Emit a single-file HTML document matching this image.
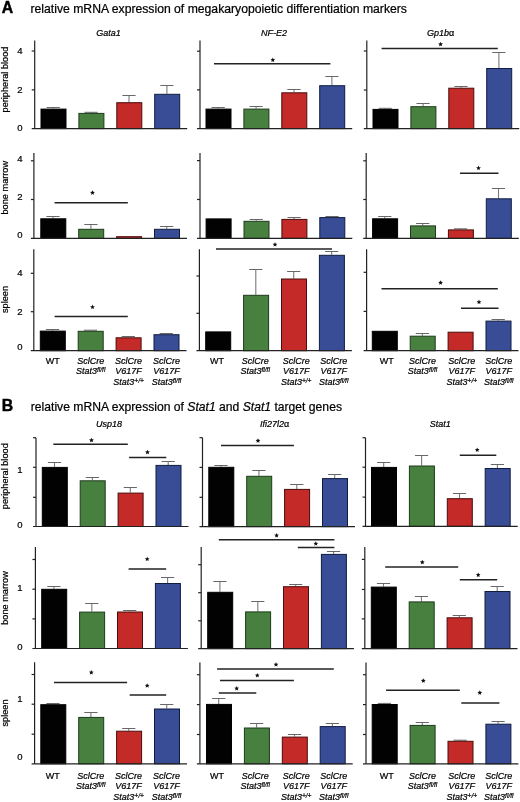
<!DOCTYPE html>
<html><head><meta charset="utf-8"><style>
html,body{margin:0;padding:0;background:#fff;width:520px;height:802px;overflow:hidden}
svg{display:block;will-change:transform}
text{font-family:"Liberation Sans", sans-serif;fill:#000;stroke:#000;stroke-width:0.22px}
</style></head><body>
<svg width="520" height="802" viewBox="0 0 520 802">
<rect width="520" height="802" fill="#fff"/>
<line x1="53.20" y1="108.60" x2="53.20" y2="107.50" stroke="#7a7a7a" stroke-width="1.1"/>
<line x1="46.60" y1="107.50" x2="59.80" y2="107.50" stroke="#686868" stroke-width="1"/>
<rect x="41.00" y="109.10" width="25.00" height="19.50" fill="#020202" stroke="#000000" stroke-width="1"/>
<line x1="91.10" y1="112.90" x2="91.10" y2="112.30" stroke="#7a7a7a" stroke-width="1.1"/>
<line x1="84.50" y1="112.30" x2="97.70" y2="112.30" stroke="#686868" stroke-width="1"/>
<rect x="78.90" y="113.40" width="25.00" height="15.20" fill="#48813f" stroke="#1d3a1a" stroke-width="1"/>
<line x1="129.00" y1="102.20" x2="129.00" y2="95.50" stroke="#7a7a7a" stroke-width="1.1"/>
<line x1="122.40" y1="95.50" x2="135.60" y2="95.50" stroke="#686868" stroke-width="1"/>
<rect x="116.80" y="102.70" width="25.00" height="25.90" fill="#c42a27" stroke="#4a0c0c" stroke-width="1"/>
<line x1="166.90" y1="93.80" x2="166.90" y2="85.50" stroke="#7a7a7a" stroke-width="1.1"/>
<line x1="160.30" y1="85.50" x2="173.50" y2="85.50" stroke="#686868" stroke-width="1"/>
<rect x="154.70" y="94.30" width="25.00" height="34.30" fill="#394d97" stroke="#0f1d40" stroke-width="1"/>
<line x1="34.70" y1="40.60" x2="34.70" y2="128.60" stroke="#222" stroke-width="1.2"/>
<line x1="31.70" y1="128.60" x2="187.20" y2="128.60" stroke="#222" stroke-width="1.2"/>
<line x1="31.70" y1="51.00" x2="34.70" y2="51.00" stroke="#222" stroke-width="1.2"/>
<line x1="31.70" y1="89.90" x2="34.70" y2="89.90" stroke="#222" stroke-width="1.2"/>
<line x1="218.20" y1="108.60" x2="218.20" y2="107.50" stroke="#7a7a7a" stroke-width="1.1"/>
<line x1="211.60" y1="107.50" x2="224.80" y2="107.50" stroke="#686868" stroke-width="1"/>
<rect x="206.00" y="109.10" width="25.00" height="19.50" fill="#020202" stroke="#000000" stroke-width="1"/>
<line x1="256.10" y1="108.60" x2="256.10" y2="106.50" stroke="#7a7a7a" stroke-width="1.1"/>
<line x1="249.50" y1="106.50" x2="262.70" y2="106.50" stroke="#686868" stroke-width="1"/>
<rect x="243.90" y="109.10" width="25.00" height="19.50" fill="#48813f" stroke="#1d3a1a" stroke-width="1"/>
<line x1="294.00" y1="92.30" x2="294.00" y2="89.50" stroke="#7a7a7a" stroke-width="1.1"/>
<line x1="287.40" y1="89.50" x2="300.60" y2="89.50" stroke="#686868" stroke-width="1"/>
<rect x="281.80" y="92.80" width="25.00" height="35.80" fill="#c42a27" stroke="#4a0c0c" stroke-width="1"/>
<line x1="331.90" y1="85.20" x2="331.90" y2="76.50" stroke="#7a7a7a" stroke-width="1.1"/>
<line x1="325.30" y1="76.50" x2="338.50" y2="76.50" stroke="#686868" stroke-width="1"/>
<rect x="319.70" y="85.70" width="25.00" height="42.90" fill="#394d97" stroke="#0f1d40" stroke-width="1"/>
<line x1="200.00" y1="40.60" x2="200.00" y2="128.60" stroke="#222" stroke-width="1.2"/>
<line x1="197.00" y1="128.60" x2="352.20" y2="128.60" stroke="#222" stroke-width="1.2"/>
<line x1="197.00" y1="51.20" x2="200.00" y2="51.20" stroke="#222" stroke-width="1.2"/>
<line x1="197.00" y1="89.90" x2="200.00" y2="89.90" stroke="#222" stroke-width="1.2"/>
<line x1="214.00" y1="63.80" x2="330.40" y2="63.80" stroke="#222" stroke-width="1.5"/>
<polygon points="272.80,57.50 273.48,59.07 275.18,59.23 273.89,60.36 274.27,62.02 272.80,61.15 271.33,62.02 271.71,60.36 270.42,59.23 272.12,59.07" fill="#111"/>
<line x1="385.20" y1="108.90" x2="385.20" y2="108.30" stroke="#7a7a7a" stroke-width="1.1"/>
<line x1="378.60" y1="108.30" x2="391.80" y2="108.30" stroke="#686868" stroke-width="1"/>
<rect x="373.00" y="109.40" width="25.00" height="19.20" fill="#020202" stroke="#000000" stroke-width="1"/>
<line x1="423.10" y1="106.20" x2="423.10" y2="103.50" stroke="#7a7a7a" stroke-width="1.1"/>
<line x1="416.50" y1="103.50" x2="429.70" y2="103.50" stroke="#686868" stroke-width="1"/>
<rect x="410.90" y="106.70" width="25.00" height="21.90" fill="#48813f" stroke="#1d3a1a" stroke-width="1"/>
<line x1="461.00" y1="87.70" x2="461.00" y2="86.50" stroke="#7a7a7a" stroke-width="1.1"/>
<line x1="454.40" y1="86.50" x2="467.60" y2="86.50" stroke="#686868" stroke-width="1"/>
<rect x="448.80" y="88.20" width="25.00" height="40.40" fill="#c42a27" stroke="#4a0c0c" stroke-width="1"/>
<line x1="498.90" y1="68.00" x2="498.90" y2="52.50" stroke="#7a7a7a" stroke-width="1.1"/>
<line x1="492.30" y1="52.50" x2="505.50" y2="52.50" stroke="#686868" stroke-width="1"/>
<rect x="486.70" y="68.50" width="25.00" height="60.10" fill="#394d97" stroke="#0f1d40" stroke-width="1"/>
<line x1="366.80" y1="40.60" x2="366.80" y2="128.60" stroke="#222" stroke-width="1.2"/>
<line x1="363.80" y1="128.60" x2="519.20" y2="128.60" stroke="#222" stroke-width="1.2"/>
<line x1="363.80" y1="51.00" x2="366.80" y2="51.00" stroke="#222" stroke-width="1.2"/>
<line x1="363.80" y1="90.00" x2="366.80" y2="90.00" stroke="#222" stroke-width="1.2"/>
<line x1="381.60" y1="48.50" x2="497.80" y2="48.50" stroke="#222" stroke-width="1.5"/>
<polygon points="440.60,41.80 441.28,43.37 442.98,43.53 441.69,44.66 442.07,46.32 440.60,45.45 439.13,46.32 439.51,44.66 438.22,43.53 439.92,43.37" fill="#111"/>
<line x1="53.00" y1="218.30" x2="53.00" y2="216.50" stroke="#7a7a7a" stroke-width="1.1"/>
<line x1="46.40" y1="216.50" x2="59.60" y2="216.50" stroke="#686868" stroke-width="1"/>
<rect x="40.80" y="218.80" width="25.00" height="19.60" fill="#020202" stroke="#000000" stroke-width="1"/>
<line x1="90.90" y1="228.80" x2="90.90" y2="224.50" stroke="#7a7a7a" stroke-width="1.1"/>
<line x1="84.30" y1="224.50" x2="97.50" y2="224.50" stroke="#686868" stroke-width="1"/>
<rect x="78.70" y="229.30" width="25.00" height="9.10" fill="#48813f" stroke="#1d3a1a" stroke-width="1"/>
<rect x="116.60" y="236.70" width="25.00" height="1.70" fill="#c42a27" stroke="#4a0c0c" stroke-width="1"/>
<line x1="166.70" y1="228.80" x2="166.70" y2="226.50" stroke="#7a7a7a" stroke-width="1.1"/>
<line x1="160.10" y1="226.50" x2="173.30" y2="226.50" stroke="#686868" stroke-width="1"/>
<rect x="154.50" y="229.30" width="25.00" height="9.10" fill="#394d97" stroke="#0f1d40" stroke-width="1"/>
<line x1="33.90" y1="153.10" x2="33.90" y2="238.40" stroke="#222" stroke-width="1.2"/>
<line x1="30.90" y1="238.40" x2="187.00" y2="238.40" stroke="#222" stroke-width="1.2"/>
<line x1="30.90" y1="160.80" x2="33.90" y2="160.80" stroke="#222" stroke-width="1.2"/>
<line x1="30.90" y1="199.50" x2="33.90" y2="199.50" stroke="#222" stroke-width="1.2"/>
<line x1="54.60" y1="202.80" x2="127.80" y2="202.80" stroke="#222" stroke-width="1.5"/>
<polygon points="92.50,190.30 93.18,191.87 94.88,192.03 93.59,193.16 93.97,194.82 92.50,193.95 91.03,194.82 91.41,193.16 90.12,192.03 91.82,191.87" fill="#111"/>
<rect x="206.10" y="218.90" width="25.00" height="19.50" fill="#020202" stroke="#000000" stroke-width="1"/>
<line x1="256.20" y1="220.80" x2="256.20" y2="219.50" stroke="#7a7a7a" stroke-width="1.1"/>
<line x1="249.60" y1="219.50" x2="262.80" y2="219.50" stroke="#686868" stroke-width="1"/>
<rect x="244.00" y="221.30" width="25.00" height="17.10" fill="#48813f" stroke="#1d3a1a" stroke-width="1"/>
<line x1="294.10" y1="218.90" x2="294.10" y2="217.50" stroke="#7a7a7a" stroke-width="1.1"/>
<line x1="287.50" y1="217.50" x2="300.70" y2="217.50" stroke="#686868" stroke-width="1"/>
<rect x="281.90" y="219.40" width="25.00" height="19.00" fill="#c42a27" stroke="#4a0c0c" stroke-width="1"/>
<line x1="332.00" y1="217.10" x2="332.00" y2="216.50" stroke="#7a7a7a" stroke-width="1.1"/>
<line x1="325.40" y1="216.50" x2="338.60" y2="216.50" stroke="#686868" stroke-width="1"/>
<rect x="319.80" y="217.60" width="25.00" height="20.80" fill="#394d97" stroke="#0f1d40" stroke-width="1"/>
<line x1="200.00" y1="153.10" x2="200.00" y2="238.40" stroke="#222" stroke-width="1.2"/>
<line x1="197.00" y1="238.40" x2="352.30" y2="238.40" stroke="#222" stroke-width="1.2"/>
<line x1="197.00" y1="160.60" x2="200.00" y2="160.60" stroke="#222" stroke-width="1.2"/>
<line x1="197.00" y1="199.50" x2="200.00" y2="199.50" stroke="#222" stroke-width="1.2"/>
<line x1="384.80" y1="218.30" x2="384.80" y2="216.50" stroke="#7a7a7a" stroke-width="1.1"/>
<line x1="378.20" y1="216.50" x2="391.40" y2="216.50" stroke="#686868" stroke-width="1"/>
<rect x="372.60" y="218.80" width="25.00" height="19.60" fill="#020202" stroke="#000000" stroke-width="1"/>
<line x1="422.70" y1="225.40" x2="422.70" y2="223.50" stroke="#7a7a7a" stroke-width="1.1"/>
<line x1="416.10" y1="223.50" x2="429.30" y2="223.50" stroke="#686868" stroke-width="1"/>
<rect x="410.50" y="225.90" width="25.00" height="12.50" fill="#48813f" stroke="#1d3a1a" stroke-width="1"/>
<line x1="460.60" y1="229.40" x2="460.60" y2="228.80" stroke="#7a7a7a" stroke-width="1.1"/>
<line x1="454.00" y1="228.80" x2="467.20" y2="228.80" stroke="#686868" stroke-width="1"/>
<rect x="448.40" y="229.90" width="25.00" height="8.50" fill="#c42a27" stroke="#4a0c0c" stroke-width="1"/>
<line x1="498.50" y1="198.30" x2="498.50" y2="188.50" stroke="#7a7a7a" stroke-width="1.1"/>
<line x1="491.90" y1="188.50" x2="505.10" y2="188.50" stroke="#686868" stroke-width="1"/>
<rect x="486.30" y="198.80" width="25.00" height="39.60" fill="#394d97" stroke="#0f1d40" stroke-width="1"/>
<line x1="366.20" y1="153.10" x2="366.20" y2="238.40" stroke="#222" stroke-width="1.2"/>
<line x1="363.20" y1="238.40" x2="518.80" y2="238.40" stroke="#222" stroke-width="1.2"/>
<line x1="363.20" y1="160.80" x2="366.20" y2="160.80" stroke="#222" stroke-width="1.2"/>
<line x1="363.20" y1="199.50" x2="366.20" y2="199.50" stroke="#222" stroke-width="1.2"/>
<line x1="460.00" y1="173.30" x2="498.50" y2="173.30" stroke="#222" stroke-width="1.5"/>
<polygon points="478.50,165.60 479.18,167.17 480.88,167.33 479.59,168.46 479.97,170.12 478.50,169.25 477.03,170.12 477.41,168.46 476.12,167.33 477.82,167.17" fill="#111"/>
<line x1="52.50" y1="330.60" x2="52.50" y2="329.50" stroke="#7a7a7a" stroke-width="1.1"/>
<line x1="45.90" y1="329.50" x2="59.10" y2="329.50" stroke="#686868" stroke-width="1"/>
<rect x="40.30" y="331.10" width="25.00" height="19.60" fill="#020202" stroke="#000000" stroke-width="1"/>
<line x1="90.40" y1="330.80" x2="90.40" y2="330.20" stroke="#7a7a7a" stroke-width="1.1"/>
<line x1="83.80" y1="330.20" x2="97.00" y2="330.20" stroke="#686868" stroke-width="1"/>
<rect x="78.20" y="331.30" width="25.00" height="19.40" fill="#48813f" stroke="#1d3a1a" stroke-width="1"/>
<line x1="128.30" y1="337.30" x2="128.30" y2="336.50" stroke="#7a7a7a" stroke-width="1.1"/>
<line x1="121.70" y1="336.50" x2="134.90" y2="336.50" stroke="#686868" stroke-width="1"/>
<rect x="116.10" y="337.80" width="25.00" height="12.90" fill="#c42a27" stroke="#4a0c0c" stroke-width="1"/>
<line x1="166.20" y1="334.20" x2="166.20" y2="333.50" stroke="#7a7a7a" stroke-width="1.1"/>
<line x1="159.60" y1="333.50" x2="172.80" y2="333.50" stroke="#686868" stroke-width="1"/>
<rect x="154.00" y="334.70" width="25.00" height="16.00" fill="#394d97" stroke="#0f1d40" stroke-width="1"/>
<line x1="33.80" y1="249.30" x2="33.80" y2="350.70" stroke="#222" stroke-width="1.2"/>
<line x1="30.80" y1="350.70" x2="186.50" y2="350.70" stroke="#222" stroke-width="1.2"/>
<line x1="30.80" y1="273.30" x2="33.80" y2="273.30" stroke="#222" stroke-width="1.2"/>
<line x1="30.80" y1="311.70" x2="33.80" y2="311.70" stroke="#222" stroke-width="1.2"/>
<line x1="54.60" y1="316.40" x2="127.80" y2="316.40" stroke="#222" stroke-width="1.5"/>
<polygon points="92.50,304.60 93.18,306.17 94.88,306.33 93.59,307.46 93.97,309.12 92.50,308.25 91.03,309.12 91.41,307.46 90.12,306.33 91.82,306.17" fill="#111"/>
<rect x="205.70" y="331.90" width="25.00" height="18.80" fill="#020202" stroke="#000000" stroke-width="1"/>
<line x1="255.80" y1="294.80" x2="255.80" y2="269.50" stroke="#7a7a7a" stroke-width="1.1"/>
<line x1="249.20" y1="269.50" x2="262.40" y2="269.50" stroke="#686868" stroke-width="1"/>
<rect x="243.60" y="295.30" width="25.00" height="55.40" fill="#48813f" stroke="#1d3a1a" stroke-width="1"/>
<line x1="293.70" y1="278.50" x2="293.70" y2="271.50" stroke="#7a7a7a" stroke-width="1.1"/>
<line x1="287.10" y1="271.50" x2="300.30" y2="271.50" stroke="#686868" stroke-width="1"/>
<rect x="281.50" y="279.00" width="25.00" height="71.70" fill="#c42a27" stroke="#4a0c0c" stroke-width="1"/>
<line x1="331.60" y1="254.80" x2="331.60" y2="251.50" stroke="#7a7a7a" stroke-width="1.1"/>
<line x1="325.00" y1="251.50" x2="338.20" y2="251.50" stroke="#686868" stroke-width="1"/>
<rect x="319.40" y="255.30" width="25.00" height="95.40" fill="#394d97" stroke="#0f1d40" stroke-width="1"/>
<line x1="199.40" y1="249.30" x2="199.40" y2="350.70" stroke="#222" stroke-width="1.2"/>
<line x1="196.40" y1="350.70" x2="351.90" y2="350.70" stroke="#222" stroke-width="1.2"/>
<line x1="196.40" y1="276.00" x2="199.40" y2="276.00" stroke="#222" stroke-width="1.2"/>
<line x1="196.40" y1="313.30" x2="199.40" y2="313.30" stroke="#222" stroke-width="1.2"/>
<line x1="216.00" y1="249.00" x2="332.00" y2="249.00" stroke="#222" stroke-width="1.5"/>
<polygon points="275.00,242.10 275.68,243.67 277.38,243.83 276.09,244.96 276.47,246.62 275.00,245.75 273.53,246.62 273.91,244.96 272.62,243.83 274.32,243.67" fill="#111"/>
<rect x="372.30" y="331.30" width="25.00" height="19.40" fill="#020202" stroke="#000000" stroke-width="1"/>
<line x1="422.40" y1="335.70" x2="422.40" y2="333.50" stroke="#7a7a7a" stroke-width="1.1"/>
<line x1="415.80" y1="333.50" x2="429.00" y2="333.50" stroke="#686868" stroke-width="1"/>
<rect x="410.20" y="336.20" width="25.00" height="14.50" fill="#48813f" stroke="#1d3a1a" stroke-width="1"/>
<rect x="448.10" y="332.20" width="25.00" height="18.50" fill="#c42a27" stroke="#4a0c0c" stroke-width="1"/>
<line x1="498.20" y1="320.60" x2="498.20" y2="319.50" stroke="#7a7a7a" stroke-width="1.1"/>
<line x1="491.60" y1="319.50" x2="504.80" y2="319.50" stroke="#686868" stroke-width="1"/>
<rect x="486.00" y="321.10" width="25.00" height="29.60" fill="#394d97" stroke="#0f1d40" stroke-width="1"/>
<line x1="366.60" y1="249.30" x2="366.60" y2="350.70" stroke="#222" stroke-width="1.2"/>
<line x1="363.60" y1="350.70" x2="518.50" y2="350.70" stroke="#222" stroke-width="1.2"/>
<line x1="363.60" y1="272.30" x2="366.60" y2="272.30" stroke="#222" stroke-width="1.2"/>
<line x1="363.60" y1="311.40" x2="366.60" y2="311.40" stroke="#222" stroke-width="1.2"/>
<line x1="381.50" y1="288.80" x2="497.80" y2="288.80" stroke="#222" stroke-width="1.5"/>
<polygon points="440.60,280.30 441.28,281.87 442.98,282.03 441.69,283.16 442.07,284.82 440.60,283.95 439.13,284.82 439.51,283.16 438.22,282.03 439.92,281.87" fill="#111"/>
<line x1="461.00" y1="308.20" x2="498.50" y2="308.20" stroke="#222" stroke-width="1.5"/>
<polygon points="479.00,299.60 479.68,301.17 481.38,301.33 480.09,302.46 480.47,304.12 479.00,303.25 477.53,304.12 477.91,302.46 476.62,301.33 478.32,301.17" fill="#111"/>
<line x1="54.50" y1="466.90" x2="54.50" y2="462.50" stroke="#7a7a7a" stroke-width="1.1"/>
<line x1="47.90" y1="462.50" x2="61.10" y2="462.50" stroke="#686868" stroke-width="1"/>
<rect x="42.30" y="467.40" width="25.00" height="59.10" fill="#020202" stroke="#000000" stroke-width="1"/>
<line x1="92.40" y1="480.30" x2="92.40" y2="477.50" stroke="#7a7a7a" stroke-width="1.1"/>
<line x1="85.80" y1="477.50" x2="99.00" y2="477.50" stroke="#686868" stroke-width="1"/>
<rect x="80.20" y="480.80" width="25.00" height="45.70" fill="#48813f" stroke="#1d3a1a" stroke-width="1"/>
<line x1="130.30" y1="492.60" x2="130.30" y2="487.50" stroke="#7a7a7a" stroke-width="1.1"/>
<line x1="123.70" y1="487.50" x2="136.90" y2="487.50" stroke="#686868" stroke-width="1"/>
<rect x="118.10" y="493.10" width="25.00" height="33.40" fill="#c42a27" stroke="#4a0c0c" stroke-width="1"/>
<line x1="168.20" y1="464.90" x2="168.20" y2="461.50" stroke="#7a7a7a" stroke-width="1.1"/>
<line x1="161.60" y1="461.50" x2="174.80" y2="461.50" stroke="#686868" stroke-width="1"/>
<rect x="156.00" y="465.40" width="25.00" height="61.10" fill="#394d97" stroke="#0f1d40" stroke-width="1"/>
<line x1="36.00" y1="437.70" x2="36.00" y2="526.50" stroke="#222" stroke-width="1.2"/>
<line x1="33.00" y1="526.50" x2="188.50" y2="526.50" stroke="#222" stroke-width="1.2"/>
<line x1="33.00" y1="437.70" x2="36.00" y2="437.70" stroke="#222" stroke-width="1.2"/>
<line x1="33.00" y1="467.30" x2="36.00" y2="467.30" stroke="#222" stroke-width="1.2"/>
<line x1="33.00" y1="497.30" x2="36.00" y2="497.30" stroke="#222" stroke-width="1.2"/>
<line x1="53.30" y1="444.30" x2="127.80" y2="444.30" stroke="#222" stroke-width="1.5"/>
<polygon points="91.50,437.80 92.18,439.37 93.88,439.53 92.59,440.66 92.97,442.32 91.50,441.45 90.03,442.32 90.41,440.66 89.12,439.53 90.82,439.37" fill="#111"/>
<line x1="129.10" y1="457.40" x2="166.30" y2="457.40" stroke="#222" stroke-width="1.5"/>
<polygon points="147.50,449.80 148.18,451.37 149.88,451.53 148.59,452.66 148.97,454.32 147.50,453.45 146.03,454.32 146.41,452.66 145.12,451.53 146.82,451.37" fill="#111"/>
<line x1="221.00" y1="466.80" x2="221.00" y2="465.50" stroke="#7a7a7a" stroke-width="1.1"/>
<line x1="214.40" y1="465.50" x2="227.60" y2="465.50" stroke="#686868" stroke-width="1"/>
<rect x="208.80" y="467.30" width="25.00" height="59.30" fill="#020202" stroke="#000000" stroke-width="1"/>
<line x1="258.90" y1="475.80" x2="258.90" y2="470.50" stroke="#7a7a7a" stroke-width="1.1"/>
<line x1="252.30" y1="470.50" x2="265.50" y2="470.50" stroke="#686868" stroke-width="1"/>
<rect x="246.70" y="476.30" width="25.00" height="50.30" fill="#48813f" stroke="#1d3a1a" stroke-width="1"/>
<line x1="296.80" y1="488.90" x2="296.80" y2="484.50" stroke="#7a7a7a" stroke-width="1.1"/>
<line x1="290.20" y1="484.50" x2="303.40" y2="484.50" stroke="#686868" stroke-width="1"/>
<rect x="284.60" y="489.40" width="25.00" height="37.20" fill="#c42a27" stroke="#4a0c0c" stroke-width="1"/>
<line x1="334.70" y1="478.10" x2="334.70" y2="474.50" stroke="#7a7a7a" stroke-width="1.1"/>
<line x1="328.10" y1="474.50" x2="341.30" y2="474.50" stroke="#686868" stroke-width="1"/>
<rect x="322.50" y="478.60" width="25.00" height="48.00" fill="#394d97" stroke="#0f1d40" stroke-width="1"/>
<line x1="202.50" y1="437.70" x2="202.50" y2="526.60" stroke="#222" stroke-width="1.2"/>
<line x1="199.50" y1="526.60" x2="355.00" y2="526.60" stroke="#222" stroke-width="1.2"/>
<line x1="199.50" y1="437.70" x2="202.50" y2="437.70" stroke="#222" stroke-width="1.2"/>
<line x1="199.50" y1="467.40" x2="202.50" y2="467.40" stroke="#222" stroke-width="1.2"/>
<line x1="199.50" y1="497.30" x2="202.50" y2="497.30" stroke="#222" stroke-width="1.2"/>
<line x1="221.00" y1="445.60" x2="293.90" y2="445.60" stroke="#222" stroke-width="1.5"/>
<polygon points="258.00,438.30 258.68,439.87 260.38,440.03 259.09,441.16 259.47,442.82 258.00,441.95 256.53,442.82 256.91,441.16 255.62,440.03 257.32,439.87" fill="#111"/>
<line x1="383.70" y1="466.90" x2="383.70" y2="462.50" stroke="#7a7a7a" stroke-width="1.1"/>
<line x1="377.10" y1="462.50" x2="390.30" y2="462.50" stroke="#686868" stroke-width="1"/>
<rect x="371.50" y="467.40" width="25.00" height="59.00" fill="#020202" stroke="#000000" stroke-width="1"/>
<line x1="421.60" y1="465.50" x2="421.60" y2="455.50" stroke="#7a7a7a" stroke-width="1.1"/>
<line x1="415.00" y1="455.50" x2="428.20" y2="455.50" stroke="#686868" stroke-width="1"/>
<rect x="409.40" y="466.00" width="25.00" height="60.40" fill="#48813f" stroke="#1d3a1a" stroke-width="1"/>
<line x1="459.50" y1="498.20" x2="459.50" y2="493.50" stroke="#7a7a7a" stroke-width="1.1"/>
<line x1="452.90" y1="493.50" x2="466.10" y2="493.50" stroke="#686868" stroke-width="1"/>
<rect x="447.30" y="498.70" width="25.00" height="27.70" fill="#c42a27" stroke="#4a0c0c" stroke-width="1"/>
<line x1="497.40" y1="468.00" x2="497.40" y2="464.50" stroke="#7a7a7a" stroke-width="1.1"/>
<line x1="490.80" y1="464.50" x2="504.00" y2="464.50" stroke="#686868" stroke-width="1"/>
<rect x="485.20" y="468.50" width="25.00" height="57.90" fill="#394d97" stroke="#0f1d40" stroke-width="1"/>
<line x1="365.50" y1="437.70" x2="365.50" y2="526.40" stroke="#222" stroke-width="1.2"/>
<line x1="362.50" y1="526.40" x2="517.70" y2="526.40" stroke="#222" stroke-width="1.2"/>
<line x1="362.50" y1="437.70" x2="365.50" y2="437.70" stroke="#222" stroke-width="1.2"/>
<line x1="362.50" y1="467.20" x2="365.50" y2="467.20" stroke="#222" stroke-width="1.2"/>
<line x1="362.50" y1="497.10" x2="365.50" y2="497.10" stroke="#222" stroke-width="1.2"/>
<line x1="459.80" y1="455.20" x2="496.30" y2="455.20" stroke="#222" stroke-width="1.5"/>
<polygon points="477.20,447.40 477.88,448.97 479.58,449.13 478.29,450.26 478.67,451.92 477.20,451.05 475.73,451.92 476.11,450.26 474.82,449.13 476.52,448.97" fill="#111"/>
<line x1="53.90" y1="588.80" x2="53.90" y2="586.50" stroke="#7a7a7a" stroke-width="1.1"/>
<line x1="47.30" y1="586.50" x2="60.50" y2="586.50" stroke="#686868" stroke-width="1"/>
<rect x="41.70" y="589.30" width="25.00" height="59.20" fill="#020202" stroke="#000000" stroke-width="1"/>
<line x1="91.80" y1="611.60" x2="91.80" y2="603.50" stroke="#7a7a7a" stroke-width="1.1"/>
<line x1="85.20" y1="603.50" x2="98.40" y2="603.50" stroke="#686868" stroke-width="1"/>
<rect x="79.60" y="612.10" width="25.00" height="36.40" fill="#48813f" stroke="#1d3a1a" stroke-width="1"/>
<line x1="129.70" y1="611.50" x2="129.70" y2="610.50" stroke="#7a7a7a" stroke-width="1.1"/>
<line x1="123.10" y1="610.50" x2="136.30" y2="610.50" stroke="#686868" stroke-width="1"/>
<rect x="117.50" y="612.00" width="25.00" height="36.50" fill="#c42a27" stroke="#4a0c0c" stroke-width="1"/>
<line x1="167.60" y1="583.00" x2="167.60" y2="577.50" stroke="#7a7a7a" stroke-width="1.1"/>
<line x1="161.00" y1="577.50" x2="174.20" y2="577.50" stroke="#686868" stroke-width="1"/>
<rect x="155.40" y="583.50" width="25.00" height="65.00" fill="#394d97" stroke="#0f1d40" stroke-width="1"/>
<line x1="35.40" y1="546.90" x2="35.40" y2="648.50" stroke="#222" stroke-width="1.2"/>
<line x1="32.40" y1="648.50" x2="187.90" y2="648.50" stroke="#222" stroke-width="1.2"/>
<line x1="32.40" y1="559.50" x2="35.40" y2="559.50" stroke="#222" stroke-width="1.2"/>
<line x1="32.40" y1="589.20" x2="35.40" y2="589.20" stroke="#222" stroke-width="1.2"/>
<line x1="32.40" y1="618.90" x2="35.40" y2="618.90" stroke="#222" stroke-width="1.2"/>
<line x1="128.60" y1="568.90" x2="166.20" y2="568.90" stroke="#222" stroke-width="1.5"/>
<polygon points="147.20,556.60 147.88,558.17 149.58,558.33 148.29,559.46 148.67,561.12 147.20,560.25 145.73,561.12 146.11,559.46 144.82,558.33 146.52,558.17" fill="#111"/>
<line x1="219.90" y1="591.80" x2="219.90" y2="581.50" stroke="#7a7a7a" stroke-width="1.1"/>
<line x1="213.30" y1="581.50" x2="226.50" y2="581.50" stroke="#686868" stroke-width="1"/>
<rect x="207.70" y="592.30" width="25.00" height="56.30" fill="#020202" stroke="#000000" stroke-width="1"/>
<line x1="257.80" y1="611.40" x2="257.80" y2="601.50" stroke="#7a7a7a" stroke-width="1.1"/>
<line x1="251.20" y1="601.50" x2="264.40" y2="601.50" stroke="#686868" stroke-width="1"/>
<rect x="245.60" y="611.90" width="25.00" height="36.70" fill="#48813f" stroke="#1d3a1a" stroke-width="1"/>
<line x1="295.70" y1="586.20" x2="295.70" y2="584.50" stroke="#7a7a7a" stroke-width="1.1"/>
<line x1="289.10" y1="584.50" x2="302.30" y2="584.50" stroke="#686868" stroke-width="1"/>
<rect x="283.50" y="586.70" width="25.00" height="61.90" fill="#c42a27" stroke="#4a0c0c" stroke-width="1"/>
<line x1="333.60" y1="553.90" x2="333.60" y2="551.50" stroke="#7a7a7a" stroke-width="1.1"/>
<line x1="327.00" y1="551.50" x2="340.20" y2="551.50" stroke="#686868" stroke-width="1"/>
<rect x="321.40" y="554.40" width="25.00" height="94.20" fill="#394d97" stroke="#0f1d40" stroke-width="1"/>
<line x1="201.20" y1="546.90" x2="201.20" y2="648.60" stroke="#222" stroke-width="1.2"/>
<line x1="198.20" y1="648.60" x2="353.90" y2="648.60" stroke="#222" stroke-width="1.2"/>
<line x1="198.20" y1="564.70" x2="201.20" y2="564.70" stroke="#222" stroke-width="1.2"/>
<line x1="198.20" y1="592.70" x2="201.20" y2="592.70" stroke="#222" stroke-width="1.2"/>
<line x1="198.20" y1="620.80" x2="201.20" y2="620.80" stroke="#222" stroke-width="1.2"/>
<line x1="218.80" y1="539.70" x2="334.40" y2="539.70" stroke="#222" stroke-width="1.5"/>
<polygon points="276.60,533.00 277.28,534.57 278.98,534.73 277.69,535.86 278.07,537.52 276.60,536.65 275.13,537.52 275.51,535.86 274.22,534.73 275.92,534.57" fill="#111"/>
<line x1="297.80" y1="547.50" x2="334.40" y2="547.50" stroke="#222" stroke-width="1.5"/>
<polygon points="315.80,541.20 316.48,542.77 318.18,542.93 316.89,544.06 317.27,545.72 315.80,544.85 314.33,545.72 314.71,544.06 313.42,542.93 315.12,542.77" fill="#111"/>
<line x1="383.50" y1="586.60" x2="383.50" y2="583.50" stroke="#7a7a7a" stroke-width="1.1"/>
<line x1="376.90" y1="583.50" x2="390.10" y2="583.50" stroke="#686868" stroke-width="1"/>
<rect x="371.30" y="587.10" width="25.00" height="61.50" fill="#020202" stroke="#000000" stroke-width="1"/>
<line x1="421.40" y1="601.40" x2="421.40" y2="596.50" stroke="#7a7a7a" stroke-width="1.1"/>
<line x1="414.80" y1="596.50" x2="428.00" y2="596.50" stroke="#686868" stroke-width="1"/>
<rect x="409.20" y="601.90" width="25.00" height="46.70" fill="#48813f" stroke="#1d3a1a" stroke-width="1"/>
<line x1="459.30" y1="617.30" x2="459.30" y2="615.50" stroke="#7a7a7a" stroke-width="1.1"/>
<line x1="452.70" y1="615.50" x2="465.90" y2="615.50" stroke="#686868" stroke-width="1"/>
<rect x="447.10" y="617.80" width="25.00" height="30.80" fill="#c42a27" stroke="#4a0c0c" stroke-width="1"/>
<line x1="497.20" y1="591.00" x2="497.20" y2="586.50" stroke="#7a7a7a" stroke-width="1.1"/>
<line x1="490.60" y1="586.50" x2="503.80" y2="586.50" stroke="#686868" stroke-width="1"/>
<rect x="485.00" y="591.50" width="25.00" height="57.10" fill="#394d97" stroke="#0f1d40" stroke-width="1"/>
<line x1="364.80" y1="546.90" x2="364.80" y2="648.60" stroke="#222" stroke-width="1.2"/>
<line x1="361.80" y1="648.60" x2="517.50" y2="648.60" stroke="#222" stroke-width="1.2"/>
<line x1="361.80" y1="559.40" x2="364.80" y2="559.40" stroke="#222" stroke-width="1.2"/>
<line x1="361.80" y1="589.50" x2="364.80" y2="589.50" stroke="#222" stroke-width="1.2"/>
<line x1="361.80" y1="618.90" x2="364.80" y2="618.90" stroke="#222" stroke-width="1.2"/>
<line x1="385.20" y1="567.00" x2="458.20" y2="567.00" stroke="#222" stroke-width="1.5"/>
<polygon points="422.30,559.80 422.98,561.37 424.68,561.53 423.39,562.66 423.77,564.32 422.30,563.45 420.83,564.32 421.21,562.66 419.92,561.53 421.62,561.37" fill="#111"/>
<line x1="459.80" y1="579.70" x2="497.20" y2="579.70" stroke="#222" stroke-width="1.5"/>
<polygon points="478.20,572.50 478.88,574.07 480.58,574.23 479.29,575.36 479.67,577.02 478.20,576.15 476.73,577.02 477.11,575.36 475.82,574.23 477.52,574.07" fill="#111"/>
<line x1="53.00" y1="704.20" x2="53.00" y2="703.50" stroke="#7a7a7a" stroke-width="1.1"/>
<line x1="46.40" y1="703.50" x2="59.60" y2="703.50" stroke="#686868" stroke-width="1"/>
<rect x="40.80" y="704.70" width="25.00" height="59.10" fill="#020202" stroke="#000000" stroke-width="1"/>
<line x1="90.90" y1="716.90" x2="90.90" y2="712.50" stroke="#7a7a7a" stroke-width="1.1"/>
<line x1="84.30" y1="712.50" x2="97.50" y2="712.50" stroke="#686868" stroke-width="1"/>
<rect x="78.70" y="717.40" width="25.00" height="46.40" fill="#48813f" stroke="#1d3a1a" stroke-width="1"/>
<line x1="128.80" y1="730.70" x2="128.80" y2="728.50" stroke="#7a7a7a" stroke-width="1.1"/>
<line x1="122.20" y1="728.50" x2="135.40" y2="728.50" stroke="#686868" stroke-width="1"/>
<rect x="116.60" y="731.20" width="25.00" height="32.60" fill="#c42a27" stroke="#4a0c0c" stroke-width="1"/>
<line x1="166.70" y1="708.50" x2="166.70" y2="704.50" stroke="#7a7a7a" stroke-width="1.1"/>
<line x1="160.10" y1="704.50" x2="173.30" y2="704.50" stroke="#686868" stroke-width="1"/>
<rect x="154.50" y="709.00" width="25.00" height="54.80" fill="#394d97" stroke="#0f1d40" stroke-width="1"/>
<line x1="34.60" y1="662.20" x2="34.60" y2="763.80" stroke="#222" stroke-width="1.2"/>
<line x1="31.60" y1="763.80" x2="187.00" y2="763.80" stroke="#222" stroke-width="1.2"/>
<line x1="31.60" y1="674.50" x2="34.60" y2="674.50" stroke="#222" stroke-width="1.2"/>
<line x1="31.60" y1="704.20" x2="34.60" y2="704.20" stroke="#222" stroke-width="1.2"/>
<line x1="31.60" y1="734.20" x2="34.60" y2="734.20" stroke="#222" stroke-width="1.2"/>
<line x1="54.00" y1="682.50" x2="127.10" y2="682.50" stroke="#222" stroke-width="1.5"/>
<polygon points="91.30,670.00 91.98,671.57 93.68,671.73 92.39,672.86 92.77,674.52 91.30,673.65 89.83,674.52 90.21,672.86 88.92,671.73 90.62,671.57" fill="#111"/>
<line x1="129.70" y1="695.10" x2="166.20" y2="695.10" stroke="#222" stroke-width="1.5"/>
<polygon points="147.20,683.20 147.88,684.77 149.58,684.93 148.29,686.06 148.67,687.72 147.20,686.85 145.73,687.72 146.11,686.06 144.82,684.93 146.52,684.77" fill="#111"/>
<line x1="218.70" y1="703.90" x2="218.70" y2="698.50" stroke="#7a7a7a" stroke-width="1.1"/>
<line x1="212.10" y1="698.50" x2="225.30" y2="698.50" stroke="#686868" stroke-width="1"/>
<rect x="206.50" y="704.40" width="25.00" height="59.40" fill="#020202" stroke="#000000" stroke-width="1"/>
<line x1="256.60" y1="727.50" x2="256.60" y2="723.50" stroke="#7a7a7a" stroke-width="1.1"/>
<line x1="250.00" y1="723.50" x2="263.20" y2="723.50" stroke="#686868" stroke-width="1"/>
<rect x="244.40" y="728.00" width="25.00" height="35.80" fill="#48813f" stroke="#1d3a1a" stroke-width="1"/>
<line x1="294.50" y1="736.60" x2="294.50" y2="734.50" stroke="#7a7a7a" stroke-width="1.1"/>
<line x1="287.90" y1="734.50" x2="301.10" y2="734.50" stroke="#686868" stroke-width="1"/>
<rect x="282.30" y="737.10" width="25.00" height="26.70" fill="#c42a27" stroke="#4a0c0c" stroke-width="1"/>
<line x1="332.40" y1="726.10" x2="332.40" y2="723.50" stroke="#7a7a7a" stroke-width="1.1"/>
<line x1="325.80" y1="723.50" x2="339.00" y2="723.50" stroke="#686868" stroke-width="1"/>
<rect x="320.20" y="726.60" width="25.00" height="37.20" fill="#394d97" stroke="#0f1d40" stroke-width="1"/>
<line x1="199.90" y1="662.50" x2="199.90" y2="763.80" stroke="#222" stroke-width="1.2"/>
<line x1="196.90" y1="763.80" x2="352.70" y2="763.80" stroke="#222" stroke-width="1.2"/>
<line x1="196.90" y1="674.70" x2="199.90" y2="674.70" stroke="#222" stroke-width="1.2"/>
<line x1="196.90" y1="704.60" x2="199.90" y2="704.60" stroke="#222" stroke-width="1.2"/>
<line x1="196.90" y1="734.50" x2="199.90" y2="734.50" stroke="#222" stroke-width="1.2"/>
<line x1="217.10" y1="669.10" x2="333.80" y2="669.10" stroke="#222" stroke-width="1.5"/>
<polygon points="276.00,662.10 276.68,663.67 278.38,663.83 277.09,664.96 277.47,666.62 276.00,665.75 274.53,666.62 274.91,664.96 273.62,663.83 275.32,663.67" fill="#111"/>
<line x1="220.00" y1="680.60" x2="293.90" y2="680.60" stroke="#222" stroke-width="1.5"/>
<polygon points="257.30,672.90 257.98,674.47 259.68,674.63 258.39,675.76 258.77,677.42 257.30,676.55 255.83,677.42 256.21,675.76 254.92,674.63 256.62,674.47" fill="#111"/>
<line x1="218.80" y1="693.00" x2="256.30" y2="693.00" stroke="#222" stroke-width="1.5"/>
<polygon points="236.70,686.00 237.38,687.57 239.08,687.73 237.79,688.86 238.17,690.52 236.70,689.65 235.23,690.52 235.61,688.86 234.32,687.73 236.02,687.57" fill="#111"/>
<line x1="384.40" y1="704.00" x2="384.40" y2="703.40" stroke="#7a7a7a" stroke-width="1.1"/>
<line x1="377.80" y1="703.40" x2="391.00" y2="703.40" stroke="#686868" stroke-width="1"/>
<rect x="372.20" y="704.50" width="25.00" height="59.30" fill="#020202" stroke="#000000" stroke-width="1"/>
<line x1="422.30" y1="724.90" x2="422.30" y2="722.50" stroke="#7a7a7a" stroke-width="1.1"/>
<line x1="415.70" y1="722.50" x2="428.90" y2="722.50" stroke="#686868" stroke-width="1"/>
<rect x="410.10" y="725.40" width="25.00" height="38.40" fill="#48813f" stroke="#1d3a1a" stroke-width="1"/>
<line x1="460.20" y1="740.80" x2="460.20" y2="740.20" stroke="#7a7a7a" stroke-width="1.1"/>
<line x1="453.60" y1="740.20" x2="466.80" y2="740.20" stroke="#686868" stroke-width="1"/>
<rect x="448.00" y="741.30" width="25.00" height="22.50" fill="#c42a27" stroke="#4a0c0c" stroke-width="1"/>
<line x1="498.10" y1="723.70" x2="498.10" y2="721.50" stroke="#7a7a7a" stroke-width="1.1"/>
<line x1="491.50" y1="721.50" x2="504.70" y2="721.50" stroke="#686868" stroke-width="1"/>
<rect x="485.90" y="724.20" width="25.00" height="39.60" fill="#394d97" stroke="#0f1d40" stroke-width="1"/>
<line x1="366.00" y1="662.50" x2="366.00" y2="763.80" stroke="#222" stroke-width="1.2"/>
<line x1="363.00" y1="763.80" x2="518.40" y2="763.80" stroke="#222" stroke-width="1.2"/>
<line x1="363.00" y1="674.70" x2="366.00" y2="674.70" stroke="#222" stroke-width="1.2"/>
<line x1="363.00" y1="704.60" x2="366.00" y2="704.60" stroke="#222" stroke-width="1.2"/>
<line x1="363.00" y1="734.50" x2="366.00" y2="734.50" stroke="#222" stroke-width="1.2"/>
<line x1="386.10" y1="690.20" x2="459.80" y2="690.20" stroke="#222" stroke-width="1.5"/>
<polygon points="423.30,678.30 423.98,679.87 425.68,680.03 424.39,681.16 424.77,682.82 423.30,681.95 421.83,682.82 422.21,681.16 420.92,680.03 422.62,679.87" fill="#111"/>
<line x1="461.30" y1="702.90" x2="499.40" y2="702.90" stroke="#222" stroke-width="1.5"/>
<polygon points="479.80,690.30 480.48,691.87 482.18,692.03 480.89,693.16 481.27,694.82 479.80,693.95 478.33,694.82 478.71,693.16 477.42,692.03 479.12,691.87" fill="#111"/>
<text x="1.8" y="13.3" font-size="15.8" text-anchor="start" font-weight="bold" style="stroke-width:0.45px">A</text>
<text x="30.5" y="13.2" font-size="12.2" text-anchor="start" >relative mRNA expression of megakaryopoietic differentiation markers</text>
<text x="1.8" y="411.0" font-size="15.8" text-anchor="start" font-weight="bold" style="stroke-width:0.45px">B</text>
<text x="30.8" y="410.6" font-size="12.15" text-anchor="start" >relative mRNA expression of <tspan font-style="italic">Stat1</tspan> and <tspan font-style="italic">Stat1</tspan> target genes</text>
<text x="108.6" y="36.2" font-size="9" text-anchor="middle" font-style="italic">Gata1</text>
<text x="274.1" y="36.2" font-size="9" text-anchor="middle" font-style="italic">NF-E2</text>
<text x="440.5" y="36.2" font-size="9" text-anchor="middle" font-style="italic">Gp1b<tspan font-style="normal">α</tspan></text>
<text x="109.1" y="427.0" font-size="9" text-anchor="middle" font-style="italic">Usp18</text>
<text x="274.5" y="427.0" font-size="9" text-anchor="middle" font-style="italic">Ifi27l2<tspan font-style="normal">α</tspan></text>
<text x="440.2" y="427.0" font-size="9" text-anchor="middle" font-style="italic">Stat1</text>
<text x="0" y="0" text-anchor="middle" transform="translate(8.3,79.5) rotate(-90)" font-size="9.2">peripheral blood</text>
<text x="0" y="0" text-anchor="middle" transform="translate(8.3,187.7) rotate(-90)" font-size="9.2">bone marrow</text>
<text x="0" y="0" text-anchor="middle" transform="translate(8.3,299.5) rotate(-90)" font-size="9.2">spleen</text>
<text x="0" y="0" text-anchor="middle" transform="translate(8.3,476.2) rotate(-90)" font-size="9.2">peripheral blood</text>
<text x="0" y="0" text-anchor="middle" transform="translate(8.3,598.0) rotate(-90)" font-size="9.2">bone marrow</text>
<text x="0" y="0" text-anchor="middle" transform="translate(8.3,713.0) rotate(-90)" font-size="9.2">spleen</text>
<text x="22.5" y="54.4" font-size="9.5" text-anchor="end" >4</text>
<text x="22.5" y="93.30000000000001" font-size="9.5" text-anchor="end" >2</text>
<text x="22.5" y="131.4" font-size="9.5" text-anchor="end" >0</text>
<text x="22.5" y="161.5" font-size="9.5" text-anchor="end" >4</text>
<text x="22.5" y="200.1" font-size="9.5" text-anchor="end" >2</text>
<text x="22.5" y="237.6" font-size="9.5" text-anchor="end" >0</text>
<text x="22.5" y="276.09999999999997" font-size="9.5" text-anchor="end" >4</text>
<text x="22.5" y="315.09999999999997" font-size="9.5" text-anchor="end" >2</text>
<text x="22.5" y="350.29999999999995" font-size="9.5" text-anchor="end" >0</text>
<text x="22.5" y="472.7" font-size="9.5" text-anchor="end" >1</text>
<text x="22.5" y="528.4" font-size="9.5" text-anchor="end" >0</text>
<text x="22.5" y="591.4" font-size="9.5" text-anchor="end" >1</text>
<text x="22.5" y="649.6" font-size="9.5" text-anchor="end" >0</text>
<text x="22.5" y="702.1999999999999" font-size="9.5" text-anchor="end" >1</text>
<text x="22.5" y="759.9" font-size="9.5" text-anchor="end" >0</text>
<text x="52.70" y="363.80" font-size="9" text-anchor="middle" >WT</text>
<text x="90.70" y="363.80" font-size="9" text-anchor="middle" font-style="italic">SclCre</text>
<text x="90.70" y="374.35" font-size="9" text-anchor="middle" font-style="italic">Stat3<tspan font-size="6.6" dy="-2.3">fl/fl</tspan></text>
<text x="128.60" y="363.80" font-size="9" text-anchor="middle" font-style="italic">SclCre</text>
<text x="128.60" y="374.35" font-size="9" text-anchor="middle" font-style="italic">V617F</text>
<text x="128.60" y="384.90" font-size="9" text-anchor="middle" font-style="italic">Stat3<tspan font-size="6.6" dy="-2.3">+/+</tspan></text>
<text x="166.50" y="363.80" font-size="9" text-anchor="middle" font-style="italic">SclCre</text>
<text x="166.50" y="374.35" font-size="9" text-anchor="middle" font-style="italic">V617F</text>
<text x="166.50" y="384.90" font-size="9" text-anchor="middle" font-style="italic">Stat3<tspan font-size="6.6" dy="-2.3">fl/fl</tspan></text>
<text x="52.70" y="778.80" font-size="9" text-anchor="middle" >WT</text>
<text x="90.70" y="778.80" font-size="9" text-anchor="middle" font-style="italic">SclCre</text>
<text x="90.70" y="789.35" font-size="9" text-anchor="middle" font-style="italic">Stat3<tspan font-size="6.6" dy="-2.3">fl/fl</tspan></text>
<text x="128.60" y="778.80" font-size="9" text-anchor="middle" font-style="italic">SclCre</text>
<text x="128.60" y="789.35" font-size="9" text-anchor="middle" font-style="italic">V617F</text>
<text x="128.60" y="799.90" font-size="9" text-anchor="middle" font-style="italic">Stat3<tspan font-size="6.6" dy="-2.3">+/+</tspan></text>
<text x="166.50" y="778.80" font-size="9" text-anchor="middle" font-style="italic">SclCre</text>
<text x="166.50" y="789.35" font-size="9" text-anchor="middle" font-style="italic">V617F</text>
<text x="166.50" y="799.90" font-size="9" text-anchor="middle" font-style="italic">Stat3<tspan font-size="6.6" dy="-2.3">fl/fl</tspan></text>
<text x="217.10" y="363.80" font-size="9" text-anchor="middle" >WT</text>
<text x="255.20" y="363.80" font-size="9" text-anchor="middle" font-style="italic">SclCre</text>
<text x="255.20" y="374.35" font-size="9" text-anchor="middle" font-style="italic">Stat3<tspan font-size="6.6" dy="-2.3">fl/fl</tspan></text>
<text x="296.20" y="363.80" font-size="9" text-anchor="middle" font-style="italic">SclCre</text>
<text x="296.20" y="374.35" font-size="9" text-anchor="middle" font-style="italic">V617F</text>
<text x="296.20" y="384.90" font-size="9" text-anchor="middle" font-style="italic">Stat3<tspan font-size="6.6" dy="-2.3">+/+</tspan></text>
<text x="333.70" y="363.80" font-size="9" text-anchor="middle" font-style="italic">SclCre</text>
<text x="333.70" y="374.35" font-size="9" text-anchor="middle" font-style="italic">V617F</text>
<text x="333.70" y="384.90" font-size="9" text-anchor="middle" font-style="italic">Stat3<tspan font-size="6.6" dy="-2.3">fl/fl</tspan></text>
<text x="217.10" y="778.80" font-size="9" text-anchor="middle" >WT</text>
<text x="255.20" y="778.80" font-size="9" text-anchor="middle" font-style="italic">SclCre</text>
<text x="255.20" y="789.35" font-size="9" text-anchor="middle" font-style="italic">Stat3<tspan font-size="6.6" dy="-2.3">fl/fl</tspan></text>
<text x="296.20" y="778.80" font-size="9" text-anchor="middle" font-style="italic">SclCre</text>
<text x="296.20" y="789.35" font-size="9" text-anchor="middle" font-style="italic">V617F</text>
<text x="296.20" y="799.90" font-size="9" text-anchor="middle" font-style="italic">Stat3<tspan font-size="6.6" dy="-2.3">+/+</tspan></text>
<text x="333.70" y="778.80" font-size="9" text-anchor="middle" font-style="italic">SclCre</text>
<text x="333.70" y="789.35" font-size="9" text-anchor="middle" font-style="italic">V617F</text>
<text x="333.70" y="799.90" font-size="9" text-anchor="middle" font-style="italic">Stat3<tspan font-size="6.6" dy="-2.3">fl/fl</tspan></text>
<text x="386.80" y="363.80" font-size="9" text-anchor="middle" >WT</text>
<text x="422.60" y="363.80" font-size="9" text-anchor="middle" font-style="italic">SclCre</text>
<text x="422.60" y="374.35" font-size="9" text-anchor="middle" font-style="italic">Stat3<tspan font-size="6.6" dy="-2.3">fl/fl</tspan></text>
<text x="461.80" y="363.80" font-size="9" text-anchor="middle" font-style="italic">SclCre</text>
<text x="461.80" y="374.35" font-size="9" text-anchor="middle" font-style="italic">V617F</text>
<text x="461.80" y="384.90" font-size="9" text-anchor="middle" font-style="italic">Stat3<tspan font-size="6.6" dy="-2.3">+/+</tspan></text>
<text x="498.80" y="363.80" font-size="9" text-anchor="middle" font-style="italic">SclCre</text>
<text x="498.80" y="374.35" font-size="9" text-anchor="middle" font-style="italic">V617F</text>
<text x="498.80" y="384.90" font-size="9" text-anchor="middle" font-style="italic">Stat3<tspan font-size="6.6" dy="-2.3">fl/fl</tspan></text>
<text x="386.80" y="778.80" font-size="9" text-anchor="middle" >WT</text>
<text x="422.60" y="778.80" font-size="9" text-anchor="middle" font-style="italic">SclCre</text>
<text x="422.60" y="789.35" font-size="9" text-anchor="middle" font-style="italic">Stat3<tspan font-size="6.6" dy="-2.3">fl/fl</tspan></text>
<text x="461.80" y="778.80" font-size="9" text-anchor="middle" font-style="italic">SclCre</text>
<text x="461.80" y="789.35" font-size="9" text-anchor="middle" font-style="italic">V617F</text>
<text x="461.80" y="799.90" font-size="9" text-anchor="middle" font-style="italic">Stat3<tspan font-size="6.6" dy="-2.3">+/+</tspan></text>
<text x="498.80" y="778.80" font-size="9" text-anchor="middle" font-style="italic">SclCre</text>
<text x="498.80" y="789.35" font-size="9" text-anchor="middle" font-style="italic">V617F</text>
<text x="498.80" y="799.90" font-size="9" text-anchor="middle" font-style="italic">Stat3<tspan font-size="6.6" dy="-2.3">fl/fl</tspan></text>
</svg>
</body></html>
